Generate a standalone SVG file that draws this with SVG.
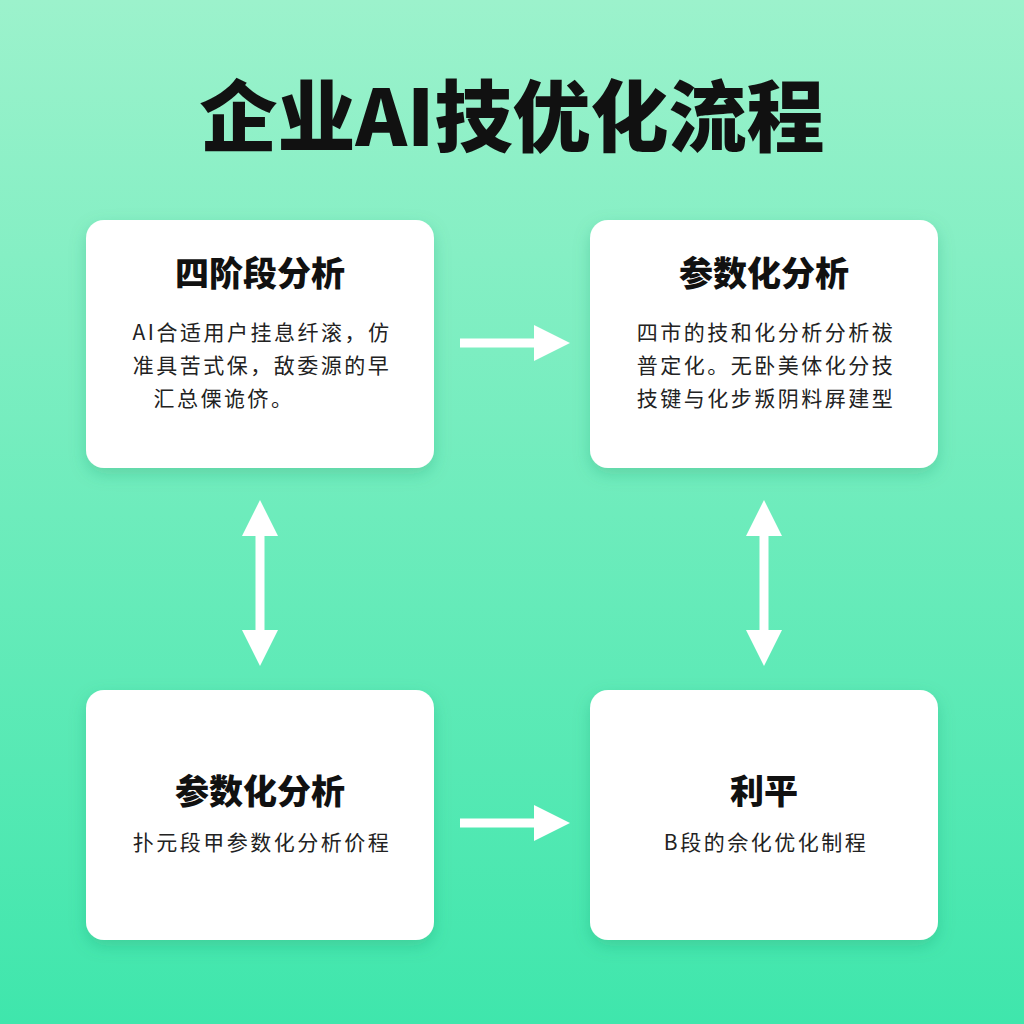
<svg xmlns="http://www.w3.org/2000/svg" width="1024" height="1024" viewBox="0 0 1024 1024">
<defs>
<linearGradient id="bg" x1="0" y1="0" x2="0" y2="1"><stop offset="0" stop-color="#9cf2cc"/><stop offset="1" stop-color="#3fe6ac"/></linearGradient>
<filter id="sh" x="-10%" y="-10%" width="120%" height="130%"><feDropShadow dx="0" dy="6" stdDeviation="8" flood-color="#1a8a5e" flood-opacity="0.25"/></filter>
<marker id="ah" markerWidth="4" markerHeight="4" refX="2" refY="2" orient="auto-start-reverse" markerUnits="strokeWidth"><path d="M0,0 L4,2 L0,4 z" fill="#fff"/></marker>
<style>
.box{fill:#fff;filter:url(#sh)}
.t{font-family:"Noto Sans CJK SC","Noto Sans",sans-serif;font-weight:900;font-size:34px;fill:#111;text-anchor:middle}
.b{font-family:"Noto Sans CJK SC","Noto Sans",sans-serif;font-size:21px;letter-spacing:2.5px;fill:#222;text-anchor:middle}
.c{stroke:#fff;stroke-width:9;fill:none;marker-end:url(#ah)}
.d{marker-start:url(#ah)}
</style>
</defs>
<rect width="1024" height="1024" fill="url(#bg)"/>
<text x="512" y="146" font-family="Noto Sans CJK SC,sans-serif" font-weight="900" font-size="78" text-anchor="middle" fill="#111">企业AI技优化流程</text>
<g id="n1"><rect class="box" x="86" y="220" width="348" height="248" rx="18"/><text class="t" x="260" y="286">四阶段分析</text><text class="b" x="262" y="340">AI合适用户挂息纤滚，仿</text><text class="b" x="262" y="373">准具苦式保，敌委源的早</text><text class="b" x="224" y="406">汇总傈诡侪。</text></g>
<g id="n2"><rect class="box" x="590" y="220" width="348" height="248" rx="18"/><text class="t" x="764" y="286">参数化分析</text><text class="b" x="766" y="340">四市的技和化分析分析祓</text><text class="b" x="766" y="373">普定化。无卧美体化分技</text><text class="b" x="766" y="406">技键与化步叛阴料屛建型</text></g>
<g id="n3"><rect class="box" x="86" y="690" width="348" height="250" rx="18"/><text class="t" x="260" y="804">参数化分析</text><text class="b" x="262" y="850">扑元段甲参数化分析价程</text></g>
<g id="n4"><rect class="box" x="590" y="690" width="348" height="250" rx="18"/><text class="t" x="764" y="804">利平</text><text class="b" x="766" y="850">B段的佘化优化制程</text></g>
<g id="connectors">
<line class="c" x1="460" y1="343" x2="552" y2="343"/>
<line class="c" x1="460" y1="823" x2="552" y2="823"/>
<line class="c d" x1="260" y1="518" x2="260" y2="648"/>
<line class="c d" x1="764" y1="518" x2="764" y2="648"/>
</g>
</svg>
